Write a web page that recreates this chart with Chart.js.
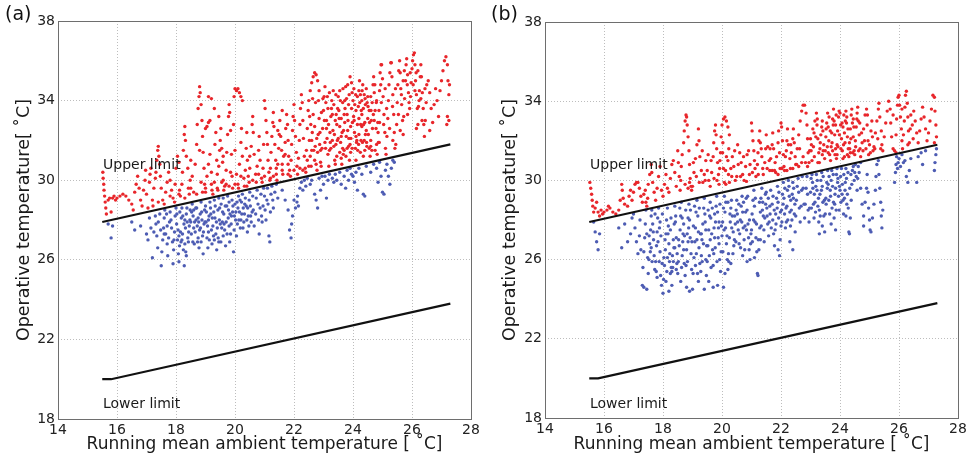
<!DOCTYPE html>
<html>
<head>
<meta charset="utf-8">
<script src="https://cdn.jsdelivr.net/npm/chart.js@4.4.1/dist/chart.umd.min.js"></script>
<style>
html,body{margin:0;padding:0;background:#fff;}
body{width:972px;height:457px;position:relative;overflow:hidden;font-family:"DejaVu Sans",sans-serif;}
.panel{position:absolute;top:0;width:486px;height:457px;}
.lab{position:absolute;top:2px;font-size:19px;color:#111;font-family:"DejaVu Sans",sans-serif;}
</style>
</head>
<body>
<div class="panel" style="left:0"><canvas id="ca" width="486" height="457"></canvas></div>
<div class="panel" style="left:486px"><canvas id="cb" width="486" height="457"></canvas></div>
<div class="lab" style="left:5px">(a)</div>
<div class="lab" style="left:491px">(b)</div>
<script>
// ---- data ----
const xTicks = [14,16,18,20,22,24,26,28];
const yTicks = [18,22,26,30,34,38];
const upperX = [15.5, 27.3];
const upperY = [27.9, 31.8];
const lowerX = [15.5, 15.8, 27.3];
const lowerY = [20.0, 20.0, 23.8];

// panel (a): above upper limit (red)
const redA = [
[15.52,30.4],[15.53,30.1],[15.55,29.8],[15.56,29.5],[15.58,29.2],[15.6,28.9],[15.62,28.6],[15.64,28.3],[15.7,29.0],[15.75,29.1],[15.8,28.4],[15.85,29.1],[15.9,29.2],[15.95,29.0],
[16.0,29.1],[16.1,29.2],[16.2,29.3],[16.3,29.2],[16.4,29.0],[16.5,28.8],[16.55,28.5],[16.6,29.4],[16.65,29.8],[16.7,30.2],[16.75,29.6],[16.8,29.0],[16.85,28.7],[16.9,29.5],[16.95,30.0],[16.97,30.5],
[17.0,29.3],[17.05,28.6],[17.1,29.9],[17.12,30.3],[17.15,30.6],[17.2,29.0],[17.22,28.7],[17.25,29.6],[17.3,30.1],[17.32,30.4],[17.35,31.0],[17.38,31.5],[17.4,31.7],[17.42,31.2],[17.45,30.8],[17.47,30.2],[17.5,29.6],
[17.55,29.0],[17.6,28.8],[17.65,29.4],[17.7,29.9],[17.75,30.4],[17.8,30.0],[17.85,29.5],[17.9,29.1],[17.95,28.9],[17.97,29.8],
[18.0,30.6],[18.05,31.2],[18.1,30.9],[18.12,29.5],[18.15,29.2],[18.2,29.8],[18.22,30.4],[18.25,31.5],[18.28,32.3],[18.3,32.7],[18.32,32.0],[18.35,31.2],[18.4,30.6],[18.42,29.6],[18.45,29.3],[18.48,30.0],
[18.5,31.0],[18.55,30.2],[18.6,29.4],[18.65,30.8],[18.7,31.8],[18.72,32.8],[18.75,33.6],[18.78,34.2],[18.8,34.7],[18.82,34.4],[18.85,33.8],[18.88,33.0],[18.9,32.2],[18.92,31.4],[18.95,30.6],[18.97,29.8],[18.8,31.5],[18.85,29.9],[18.9,29.4],
[19.0,32.6],[19.05,32.7],[19.1,32.9],[19.15,33.0],
[19.0,29.6],[19.05,30.2],[19.1,30.8],[19.15,31.3],[19.2,30.4],[19.22,29.5],[19.25,29.3],[19.3,29.9],[19.32,31.8],[19.35,32.4],[19.38,31.0],[19.4,30.3],[19.42,29.5],[19.45,30.7],[19.48,31.5],[19.1,34.2],[19.2,34.1],[19.3,33.6],[19.45,33.2],
[19.5,32.0],[19.52,32.6],[19.55,31.6],[19.58,30.9],[19.6,30.0],[19.62,29.5],[19.65,29.7],[19.7,30.5],[19.72,31.4],[19.75,32.3],[19.78,33.2],[19.8,33.8],[19.82,33.4],[19.85,32.5],[19.88,31.3],[19.9,30.2],[19.92,29.6],[19.95,32.8],[19.97,34.2],[19.7,29.8],[19.85,30.4],
[20.0,34.6],[20.05,34.5],[20.1,34.6],[20.15,34.4],[20.2,34.2],[20.25,34.0],[20.0,31.5],[20.05,30.3],[20.1,29.8],[20.12,29.6],[20.15,30.8],[20.2,31.9],[20.22,32.6],[20.25,31.2],[20.3,30.1],[20.32,29.7],[20.35,30.5],[20.38,31.6],[20.4,32.4],[20.42,31.0],[20.45,30.2],[20.48,29.9],
[20.5,30.6],[20.55,31.7],[20.58,32.8],[20.6,33.2],[20.62,32.4],[20.65,31.3],[20.7,30.3],[20.72,29.9],[20.75,30.7],[20.8,31.5],[20.82,32.2],[20.85,31.0],[20.9,30.1],[20.92,29.9],[20.95,30.6],[20.97,31.8],
[21.0,34.0],[21.02,33.6],[21.05,33.0],[21.08,32.4],[21.1,31.8],[21.12,31.0],[21.15,30.4],[21.18,30.0],[21.2,30.6],[21.22,31.4],[21.25,32.2],[21.28,32.9],[21.3,33.4],[21.32,32.7],[21.35,31.8],[21.38,31.0],[21.4,30.3],[21.42,30.0],[21.45,30.8],[21.48,31.6],[21.3,30.2],[21.45,32.5],
[21.5,32.3],[21.52,33.0],[21.55,32.2],[21.58,31.5],[21.6,30.8],[21.62,30.3],[21.65,31.2],[21.7,31.9],[21.72,32.6],[21.75,33.3],[21.78,32.8],[21.8,32.0],[21.82,31.2],[21.85,30.5],[21.88,30.2],[21.9,31.0],[21.92,31.8],[21.95,32.5],[21.97,33.2],[21.6,33.5],[21.8,30.3],
[22.0,33.8],[22.02,33.0],[22.05,32.2],[22.08,31.4],[22.1,30.7],[22.12,30.3],[22.15,31.1],[22.18,32.0],[22.2,32.8],[22.22,33.6],[22.25,34.3],[22.28,33.9],[22.3,33.0],[22.32,32.1],[22.35,31.2],[22.38,30.6],[22.4,30.4],[22.42,31.5],[22.45,32.6],[22.48,33.5],[22.3,30.5],[22.45,31.0],
[22.5,34.0],[22.55,34.5],[22.6,34.9],[22.65,35.2],[22.7,35.4],[22.75,35.3],[22.8,35.0],[22.85,34.5],[22.52,32.0],[22.55,31.2],[22.58,30.7],[22.6,31.5],[22.62,32.4],[22.65,33.3],[22.7,32.7],[22.72,31.7],[22.75,30.8],[22.78,30.5],[22.8,31.4],[22.82,32.3],[22.85,33.1],[22.88,32.4],[22.9,31.5],[22.92,30.7],[22.95,31.6],[22.97,32.6],
[23.0,33.5],[23.02,34.2],[23.05,34.7],[23.08,33.9],[23.1,33.0],[23.12,32.1],[23.15,31.3],[23.18,30.7],[23.2,31.5],[23.22,32.4],[23.25,33.2],[23.28,34.0],[23.3,33.3],[23.32,32.5],[23.35,31.7],[23.38,31.0],[23.4,30.8],[23.42,31.8],[23.45,32.8],[23.48,33.6],[23.3,32.0],[23.4,33.0],[23.2,34.4],[23.45,31.2],
[23.5,34.2],[23.52,33.5],[23.55,32.7],[23.58,31.9],[23.6,31.1],[23.62,30.8],[23.65,31.6],[23.68,32.5],[23.7,33.3],[23.72,34.0],[23.75,34.7],[23.78,34.1],[23.8,33.3],[23.82,32.5],[23.85,31.7],[23.88,31.0],[23.9,31.8],[23.92,32.7],[23.95,33.6],[23.97,34.4],[23.6,32.2],[23.7,31.5],[23.8,31.6],[23.85,33.8],[23.9,35.2],[23.95,34.9],[23.55,34.5],[23.65,33.9],
[24.0,34.0],[24.02,33.2],[24.05,32.4],[24.08,31.6],[24.1,31.0],[24.12,31.9],[24.15,32.8],[24.18,33.7],[24.2,34.5],[24.22,35.0],[24.25,34.3],[24.28,33.5],[24.3,32.7],[24.32,31.9],[24.35,31.2],[24.38,32.0],[24.4,32.9],[24.42,33.8],[24.45,34.6],[24.48,33.9],[24.1,33.5],[24.2,32.3],[24.3,34.0],[24.4,31.5],[24.45,32.5],[24.25,31.4],[24.15,34.2],[24.35,33.6],
[24.5,33.1],[24.52,32.3],[24.55,31.6],[24.58,31.2],[24.6,32.0],[24.62,33.0],[24.65,33.9],[24.68,34.8],[24.7,35.2],[24.72,34.4],[24.75,33.5],[24.78,32.6],[24.8,31.8],[24.82,31.3],[24.85,32.4],[24.88,33.5],[24.9,34.5],[24.92,35.4],[24.95,35.8],[24.97,35.8],[24.6,34.2],[24.75,31.5],
[25.0,35.1],[25.02,34.2],[25.05,33.3],[25.08,32.4],[25.1,31.6],[25.12,31.3],[25.15,32.2],[25.18,33.1],[25.2,34.0],[25.22,34.8],[25.25,35.4],[25.28,35.9],[25.3,35.9],[25.32,35.2],[25.35,34.3],[25.38,33.3],[25.4,32.4],[25.42,31.6],[25.45,31.8],[25.48,32.8],[25.35,32.0],
[25.5,33.9],[25.52,34.8],[25.55,35.5],[25.58,36.0],[25.6,35.4],[25.62,34.6],[25.65,33.8],[25.68,33.0],[25.7,32.3],[25.72,33.2],[25.75,34.1],[25.78,35.0],[25.8,35.8],[25.82,36.1],[25.85,35.3],[25.88,34.4],[25.9,33.9],[25.92,33.6],[25.95,34.2],[25.97,34.9],[25.7,35.0],[25.85,33.3],[25.6,32.5],
[26.0,35.6],[26.02,36.0],[26.05,36.3],[26.08,36.4],[26.1,35.8],[26.12,35.0],[26.15,34.3],[26.18,33.6],[26.2,32.8],[26.22,33.7],[26.25,34.5],[26.28,35.2],[26.3,35.8],[26.32,35.2],[26.35,34.4],[26.38,33.6],[26.4,32.8],[26.42,32.2],[26.45,33.0],[26.48,33.9],[26.1,34.5],[26.2,35.5],[26.3,34.1],[26.15,32.6],
[26.5,34.8],[26.55,35.0],[26.6,34.4],[26.65,33.6],[26.7,32.9],[26.75,33.8],[26.8,34.6],[26.85,34.0],[26.9,33.2],[26.95,34.5],[26.6,32.5],
[27.0,35.0],[27.05,35.5],[27.1,36.0],[27.15,36.2],[27.2,35.8],[27.22,35.0],[27.25,34.3],[27.25,33.0],[27.2,33.2],[27.18,32.8],[27.27,34.8],
[23.05,31.9],[23.1,32.6],[23.15,33.6],[23.25,31.6],[23.35,33.8],[23.42,34.3],[23.5,32.1],[23.55,31.4],[23.6,33.1],[23.66,34.6],[23.72,32.9],[23.76,31.2],[23.82,34.8],[23.86,32.1],[23.92,31.4],[23.98,32.9],[24.03,34.6],[24.06,33.8],[24.1,32.2],[24.16,31.5],[24.2,33.1],[24.26,32.8],[24.3,33.3],[24.33,34.8],[24.38,34.3],[24.42,32.3],[24.47,31.7],[24.5,34.2],[24.55,33.5],[24.6,31.7],[24.66,32.6],[24.72,33.0],[24.8,34.0],[24.86,31.9],[24.9,32.9],[24.96,33.9],
[18.1,29.3],[18.3,29.1],[18.5,29.6],[18.7,29.3],[19.0,29.4],[19.2,29.8],[19.4,29.6],[19.55,29.9],[19.8,29.7],[20.0,29.8],[20.2,30.2],[20.4,29.7],[20.6,30.0],[20.8,30.3],[21.0,30.2],[21.2,30.1],[21.4,30.6],[21.6,30.5],[21.8,30.8],[22.0,30.5],[22.2,30.6],[22.5,30.7],[22.7,31.0],[22.9,30.9],[17.8,29.2],[17.4,28.9],[19.6,31.2],[20.5,31.2],[21.7,31.3],[22.6,32.0],
[22.53,33.2],[22.57,32.8],[22.63,34.1],[22.67,31.5],[22.73,33.9],[22.77,32.1],[22.83,34.0],[22.87,31.8],[22.93,33.4],[22.98,34.1],[23.03,33.0],[23.07,31.6],[23.13,34.2],[23.17,32.8],[23.23,31.9],[23.27,33.6],[23.33,34.5],[23.37,32.3],[23.43,33.3],[23.47,32.0],[23.53,33.1],[23.57,34.0],[23.63,32.4],[23.67,31.3],[23.73,33.6],[23.77,32.2],[23.83,33.0],[23.87,34.3],[23.93,32.1],[23.97,31.6],[24.04,33.0],[24.09,34.3],[24.13,32.0],[24.19,31.8],[24.23,33.9],[24.27,32.0],[24.31,34.5],[24.36,32.8],[24.41,34.1],[24.46,31.9],[24.51,33.7],[24.56,32.9],[24.61,33.5],[24.64,31.5],[24.69,33.3],[24.74,34.8],[24.79,33.9],[24.84,32.9],[24.89,31.9],[24.94,34.8],[25.04,32.8],[25.09,34.6],[25.14,33.6],[25.24,32.6],[25.34,33.7],[25.44,34.6],[25.54,33.3],[25.64,34.3],[25.74,35.5],[25.84,34.8],[25.94,35.4],[26.04,34.8],[26.14,35.4],[26.24,34.0],[26.34,33.0],[26.44,34.6]
];
// panel (a): below upper limit (blue)
const blueA = [
[15.7,27.8],[15.8,27.1],[15.85,27.7],[16.5,27.9],[16.6,27.5],[16.8,27.7],
[17.0,27.3],[17.05,27.0],[17.1,28.1],[17.15,27.6],[17.2,26.1],[17.25,27.4],[17.3,28.2],[17.32,27.8],[17.35,27.2],[17.38,26.6],[17.4,27.9],[17.45,28.3],[17.48,27.5],
[17.5,25.7],[17.52,26.4],[17.55,27.0],[17.58,27.6],[17.6,28.1],[17.62,28.5],[17.65,27.3],[17.7,26.8],[17.72,26.2],[17.75,27.1],[17.78,27.9],[17.8,28.4],[17.85,27.6],[17.88,26.9],[17.9,25.8],[17.92,26.5],[17.95,27.4],[17.97,28.2],
[18.0,28.6],[18.02,27.8],[18.05,27.0],[18.08,26.3],[18.1,25.9],[18.12,26.7],[18.15,27.4],[18.18,28.1],[18.2,28.6],[18.22,27.3],[18.25,26.5],[18.28,25.7],[18.3,26.8],[18.32,27.6],[18.35,28.3],[18.38,27.9],[18.4,27.1],[18.42,26.9],[18.45,27.7],[18.48,28.5],[18.1,27.2],[18.2,27.0],[18.35,26.2],[18.3,28.0],
[18.5,27.9],[18.52,27.3],[18.55,28.8],[18.58,28.2],[18.6,27.6],[18.62,26.8],[18.65,27.4],[18.68,28.0],[18.7,28.6],[18.72,27.7],[18.75,27.1],[18.78,26.6],[18.8,27.5],[18.82,28.3],[18.85,28.9],[18.88,28.0],[18.9,27.2],[18.92,26.3],[18.95,27.8],[18.97,28.5],[18.6,28.5],[18.75,28.1],[18.85,26.9],
[19.0,28.7],[19.02,27.9],[19.05,27.1],[19.08,26.6],[19.1,27.4],[19.12,28.2],[19.15,28.9],[19.18,28.3],[19.2,27.5],[19.22,26.8],[19.25,27.7],[19.28,28.4],[19.3,29.0],[19.32,28.1],[19.35,27.3],[19.38,26.5],[19.4,27.6],[19.42,28.5],[19.45,29.1],[19.48,28.6],[19.1,28.0],[19.3,27.0],[19.45,26.9],
[19.5,27.8],[19.52,26.9],[19.55,27.6],[19.58,28.4],[19.6,29.1],[19.62,28.3],[19.65,27.5],[19.68,26.7],[19.7,27.9],[19.72,28.7],[19.75,29.2],[19.78,28.5],[19.8,27.7],[19.82,26.9],[19.85,27.3],[19.88,28.2],[19.9,29.0],[19.92,28.4],[19.95,26.4],[19.97,27.5],[19.8,28.9],[19.6,27.2],
[20.0,28.8],[20.02,28.0],[20.05,27.2],[20.08,27.8],[20.1,28.6],[20.12,29.2],[20.15,28.4],[20.18,27.6],[20.2,28.0],[20.22,28.9],[20.25,29.3],[20.28,28.6],[20.3,27.9],[20.32,28.3],[20.35,29.1],[20.38,28.7],[20.4,28.0],[20.42,27.4],[20.45,28.2],[20.48,29.0],
[20.5,29.4],[20.52,28.7],[20.55,27.9],[20.58,28.4],[20.6,29.2],[20.62,28.5],[20.65,27.7],[20.7,28.3],[20.72,29.1],[20.75,29.5],[20.78,28.8],[20.8,28.0],[20.82,27.3],[20.85,28.6],[20.88,29.3],[20.9,28.2],[20.92,27.9],[20.95,28.7],[20.97,29.6],
[21.0,29.2],[21.02,28.5],[21.05,28.0],[21.08,29.0],[21.1,29.6],[21.12,28.8],[21.15,27.2],[21.18,26.9],[21.2,28.4],[21.22,29.3],[21.25,29.7],[21.28,29.0],[21.3,28.6],[21.35,29.4],[21.4,29.8],[21.45,29.1],
[21.6,29.5],[21.7,29.0],[21.8,28.5],[21.85,27.5],[21.9,27.1],[21.92,27.8],[21.95,28.2],
[22.0,29.0],[22.05,28.6],[22.1,28.9],[22.12,29.2],[22.15,28.7],[22.2,29.6],[22.25,29.9],[22.3,29.5],[22.35,30.0],[22.4,29.7],[22.45,30.1],
[22.55,29.8],[22.6,30.0],[22.7,29.3],[22.75,29.0],[22.8,28.6],[22.85,30.1],[22.9,29.5],[22.95,30.2],
[23.0,29.8],[23.05,30.2],[23.1,29.1],[23.15,30.0],[23.2,30.3],[23.3,30.1],[23.35,29.9],[23.4,30.3],[23.45,30.0],
[23.55,30.4],[23.6,29.8],[23.7,30.2],[23.75,29.6],[23.8,30.5],[23.85,30.0],[23.9,30.6],[23.95,30.3],
[24.0,30.2],[24.05,29.9],[24.1,30.4],[24.15,29.5],[24.2,30.6],[24.3,30.3],[24.35,29.3],[24.4,29.2],[24.45,30.7],
[24.6,30.4],[24.7,30.8],[24.8,30.6],[24.85,29.9],[24.9,30.9],[24.95,30.2],
[25.0,29.4],[25.05,29.3],[25.1,30.5],[25.15,30.8],[25.2,30.2],[25.25,29.8],[25.3,30.6],[25.35,31.0],[25.4,30.9],
[18.03,28.3],[18.07,27.5],[18.13,28.4],[18.17,26.9],[18.23,28.2],[18.27,27.8],[18.33,26.4],[18.37,28.6],[18.43,27.4],[18.47,28.0],[18.53,28.4],[18.57,26.9],[18.63,27.9],[18.67,28.6],[18.73,26.9],[18.77,27.9],[18.83,27.6],[18.87,28.4],[18.93,27.4],[18.98,27.9],[19.03,28.4],[19.07,27.7],[19.13,27.0],[19.17,28.6],[19.23,28.1],[19.27,27.2],[19.33,28.7],[19.37,27.9],[19.43,27.1],[19.47,28.0],[19.53,28.8],[19.57,27.9],[19.63,27.8],[19.67,28.7],[19.73,27.3],[19.77,28.1],[19.83,28.3],[19.87,27.8],[19.93,28.7],[19.98,28.2],[20.03,28.4],[20.07,28.9],[20.13,28.0],[20.17,29.0],[20.23,28.3],[20.27,27.6],[20.33,28.8],[20.43,28.6],[20.47,27.7],[20.53,28.2],[17.6,27.3],[17.7,27.7],[17.83,28.0],[17.93,27.0],[17.68,28.3]
];
// panel (b): above upper limit (red)
const redB = [
[15.52,29.9],[15.55,29.6],[15.58,29.3],[15.6,29.0],[15.62,28.7],[15.65,28.4],[15.7,28.6],[15.75,28.9],[15.8,28.4],[15.85,28.2],[15.9,28.5],[15.95,28.3],
[16.0,28.4],[16.1,28.5],[16.15,28.7],[16.2,28.6],[16.3,28.4],[16.4,28.3],[16.5,28.5],[16.55,29.0],[16.6,29.8],[16.62,29.5],[16.65,29.1],[16.7,28.8],[16.8,28.7],[16.85,29.2],[16.9,29.5],[16.95,29.0],
[17.0,29.4],[17.05,29.8],[17.1,29.9],[17.15,29.9],[17.2,29.6],[17.25,29.2],[17.3,28.9],[17.35,29.3],[17.4,29.5],[17.42,28.9],[17.45,28.7],[17.48,29.1],
[17.5,29.8],[17.55,30.3],[17.6,30.8],[17.62,30.4],[17.65,29.9],[17.7,29.4],[17.75,29.0],[17.8,29.6],[17.85,30.2],[17.9,30.7],[17.95,29.5],
[18.0,29.2],[18.05,29.8],[18.1,30.3],[18.15,29.6],[18.2,29.4],[18.25,30.1],[18.3,30.8],[18.35,31.0],[18.4,30.4],[18.45,29.7],
[18.5,31.5],[18.52,30.9],[18.55,30.2],[18.58,29.5],[18.6,30.0],[18.62,30.7],[18.65,31.3],[18.7,31.9],[18.72,32.5],[18.75,33.0],[18.78,33.3],[18.8,33.2],[18.82,32.8],[18.85,32.2],[18.88,31.5],[18.9,30.8],[18.92,30.1],[18.95,29.7],[18.97,29.5],[18.85,29.6],[18.9,29.9],[18.75,29.8],
[19.0,29.7],[19.05,30.4],[19.1,31.1],[19.15,31.8],[19.2,32.6],[19.22,32.0],[19.25,31.2],[19.3,30.5],[19.35,29.9],[19.4,30.3],[19.45,31.0],
[19.5,30.5],[19.55,30.0],[19.6,29.7],[19.65,30.4],[19.7,31.2],[19.72,31.9],[19.75,32.5],[19.78,32.8],[19.8,32.3],[19.82,31.6],[19.85,30.9],[19.88,30.3],[19.9,29.8],[19.92,30.6],[19.95,31.4],[19.97,32.2],
[20.0,32.8],[20.05,33.1],[20.1,33.2],[20.15,33.0],[20.2,32.7],[20.25,32.3],[20.02,31.4],[20.05,30.6],[20.08,29.9],[20.12,30.5],[20.15,31.2],[20.2,31.0],[20.22,30.3],[20.25,29.9],[20.3,30.6],[20.35,31.2],[20.4,30.7],[20.45,30.0],
[20.5,30.2],[20.55,30.8],[20.6,31.4],[20.65,30.9],[20.7,30.3],[20.75,30.0],[20.8,30.7],[20.85,31.3],[20.9,31.5],[20.95,30.8],
[21.0,32.9],[21.02,32.5],[21.05,32.0],[21.08,31.5],[21.1,31.0],[21.12,30.6],[21.15,30.2],[21.2,30.8],[21.22,31.4],[21.25,32.0],[21.28,32.5],[21.3,31.9],[21.35,31.2],[21.38,30.6],[21.4,30.3],[21.45,30.9],[21.48,31.6],
[21.5,32.3],[21.55,31.7],[21.6,31.0],[21.62,30.5],[21.65,31.1],[21.7,31.8],[21.72,32.4],[21.75,31.6],[21.8,30.9],[21.82,30.4],[21.85,31.2],[21.9,31.9],[21.92,32.5],[21.95,31.4],[21.97,30.6],[21.7,30.5],
[22.0,32.9],[22.02,32.7],[22.05,32.0],[22.08,31.3],[22.1,30.7],[22.12,30.5],[22.15,31.2],[22.2,32.0],[22.22,32.6],[22.25,31.8],[22.3,31.1],[22.32,30.6],[22.35,31.4],[22.4,32.1],[22.42,32.6],[22.45,31.9],[22.48,31.2],
[22.5,30.8],[22.55,31.6],[22.6,32.3],[22.65,33.0],[22.7,33.5],[22.75,33.8],[22.8,33.8],[22.85,33.4],[22.88,32.8],[22.9,32.1],[22.92,31.4],[22.95,30.9],[22.97,31.5],[22.6,30.7],[22.75,31.2],
[23.0,32.1],[23.02,31.5],[23.05,31.0],[23.1,31.7],[23.12,32.4],[23.15,33.0],[23.2,33.4],[23.22,32.8],[23.25,32.1],[23.28,31.4],[23.3,30.9],[23.32,31.6],[23.35,32.3],[23.4,33.0],[23.42,32.5],[23.45,31.8],[23.48,31.1],[23.25,30.9],[23.4,31.3],
[23.5,31.5],[23.52,32.2],[23.55,32.9],[23.58,33.4],[23.6,32.7],[23.62,32.0],[23.65,31.3],[23.68,31.0],[23.7,31.7],[23.72,32.4],[23.75,33.1],[23.78,33.6],[23.8,33.0],[23.82,32.3],[23.85,31.6],[23.88,31.1],[23.9,31.8],[23.92,32.5],[23.95,33.2],[23.97,33.5],[23.6,31.4],[23.75,31.5],[23.9,31.3],[23.85,32.8],
[24.0,33.4],[24.02,32.8],[24.05,32.1],[24.08,31.5],[24.1,31.1],[24.12,31.8],[24.15,32.4],[24.18,33.0],[24.2,33.5],[24.22,32.9],[24.25,32.2],[24.28,31.6],[24.3,31.2],[24.32,31.9],[24.35,32.6],[24.38,33.3],[24.4,33.6],[24.42,32.9],[24.45,32.2],[24.48,31.5],[24.1,32.7],[24.25,31.3],[24.35,31.4],[24.45,33.1],[24.15,31.2],
[24.5,31.3],[24.52,32.0],[24.55,32.7],[24.58,33.4],[24.6,33.7],[24.62,33.0],[24.65,32.3],[24.68,31.6],[24.7,31.2],[24.75,31.9],[24.8,32.6],[24.85,33.3],[24.9,33.6],[24.92,32.8],[24.95,32.0],[24.97,31.3],
[25.0,31.8],[25.05,32.5],[25.1,32.2],[25.12,31.5],[25.15,31.7],[25.2,32.4],[25.25,33.0],[25.3,33.6],[25.32,33.9],[25.35,33.2],[25.4,32.5],[25.42,31.8],[25.45,31.5],
[25.5,32.2],[25.55,32.9],[25.6,33.5],[25.65,34.0],[25.7,33.6],[25.72,32.9],[25.75,32.2],[25.8,31.6],[25.85,31.5],[25.9,32.3],[25.92,33.1],[25.95,33.8],[25.97,34.2],[25.8,33.3],[25.9,31.4],
[26.0,34.3],[26.02,33.8],[26.05,33.2],[26.08,32.6],[26.1,32.0],[26.12,31.6],[26.15,32.3],[26.18,33.0],[26.2,33.7],[26.22,34.3],[26.25,34.5],[26.28,33.9],[26.3,33.2],[26.32,32.5],[26.35,31.9],[26.38,32.6],[26.4,33.3],[26.45,32.8],[26.48,32.1],[26.1,33.6],[26.3,31.8],
[26.5,33.5],[26.55,33.0],[26.6,32.4],[26.65,31.9],[26.7,32.5],[26.75,33.1],[26.8,33.7],[26.85,33.2],[26.9,32.6],[26.95,32.0],
[27.0,32.4],[27.05,33.0],[27.1,33.6],[27.15,34.3],[27.2,34.2],[27.22,33.5],[27.25,32.8],[27.27,32.2],[27.2,31.9],
[23.03,31.8],[23.08,32.6],[23.13,31.2],[23.18,32.2],[23.23,33.1],[23.33,31.9],[23.38,32.7],[23.43,31.5],[23.53,32.6],[23.57,31.7],[23.63,33.2],[23.67,32.5],[23.73,31.9],[23.77,32.8],[23.83,31.3],[23.87,33.3],[23.93,31.7],[23.98,32.3],[24.03,31.6],[24.07,32.9],[24.13,33.3],[24.17,31.9],[24.23,33.2],[24.27,32.6],[24.33,31.6],[24.37,32.1],[24.43,31.4],[24.47,32.7],[24.53,31.7],[24.57,33.1],[24.63,31.5],[24.67,32.9],[24.73,32.4],[24.78,31.5],[24.83,32.0],[24.88,31.6],[24.93,33.3],[25.03,31.4],[25.08,33.0],[25.18,31.6],[25.28,32.1],[25.38,31.6],[22.9,30.7],[22.7,30.9],[22.4,30.6],[22.2,30.5],[21.9,30.3],
[19.03,30.9],[19.13,30.2],[19.23,29.9],[19.33,31.5],[19.43,30.0],[19.53,31.3],[19.63,31.0],[19.73,30.1],[19.83,30.0],[19.93,31.0],[20.03,31.9],[20.13,29.8],[20.23,31.6],[20.33,30.2],[20.43,31.5],[20.53,31.8],[20.63,30.2],[20.73,31.2],[20.83,29.95],[20.93,30.3],[21.03,30.4],[21.23,30.3],[21.33,31.6],[21.53,30.6],[21.63,31.6],[21.78,30.5],[22.03,30.6],[22.18,31.5],[22.33,31.8],[22.53,30.8],[22.63,31.6],[22.83,30.9]
];
// panel (b): below upper limit (blue)
const blueB = [
[15.65,27.9],[15.7,27.4],[15.75,26.9],[15.8,26.5],[15.85,27.3],[16.5,27.6],[16.6,26.6],[16.7,27.8],[16.8,26.9],[16.9,27.3],[16.95,28.1],
[17.0,28.3],[17.05,27.6],[17.1,26.9],[17.15,26.3],[17.2,27.2],[17.22,28.0],[17.25,26.5],[17.3,24.7],[17.32,25.6],[17.35,26.4],[17.38,27.1],[17.4,27.8],[17.42,28.5],[17.45,27.3],[17.48,26.1],[17.35,24.6],[17.45,24.5],
[17.5,25.3],[17.52,26.0],[17.55,26.8],[17.58,27.5],[17.6,28.2],[17.62,28.5],[17.65,27.8],[17.68,27.0],[17.7,26.2],[17.72,25.5],[17.75,25.9],[17.78,26.7],[17.8,27.4],[17.82,28.1],[17.85,28.6],[17.88,27.6],[17.9,26.4],[17.92,25.2],[17.95,24.7],[17.97,25.8],[17.6,26.6],[17.8,25.1],[17.9,27.9],
[18.0,24.3],[18.02,25.0],[18.05,25.7],[18.08,26.5],[18.1,27.3],[18.12,28.0],[18.15,28.6],[18.18,27.7],[18.2,26.8],[18.22,25.9],[18.25,25.3],[18.28,25.6],[18.3,25.4],[18.32,26.2],[18.35,27.0],[18.38,27.8],[18.4,28.7],[18.42,27.9],[18.45,27.1],[18.48,26.3],[18.1,24.9],[18.2,24.4],[18.3,24.7],[18.35,25.9],[18.45,25.5],[18.15,26.1],[18.25,27.5],[18.4,26.6],
[18.5,25.3],[18.52,25.9],[18.55,26.7],[18.58,27.5],[18.6,28.2],[18.62,28.9],[18.65,28.1],[18.68,27.3],[18.7,26.5],[18.72,25.8],[18.75,25.2],[18.78,25.7],[18.8,26.5],[18.82,27.3],[18.85,28.1],[18.88,28.8],[18.9,28.0],[18.92,27.1],[18.95,26.3],[18.97,25.5],[18.6,24.9],[18.7,27.8],[18.8,24.6],[18.9,24.4],[18.65,26.2],[18.85,26.9],
[19.0,24.5],[19.02,25.3],[19.05,26.1],[19.08,26.9],[19.1,27.6],[19.12,28.4],[19.15,29.0],[19.18,28.2],[19.2,27.4],[19.22,26.6],[19.25,25.8],[19.28,25.4],[19.3,26.2],[19.32,27.0],[19.35,27.8],[19.38,28.6],[19.4,29.1],[19.42,28.3],[19.45,27.5],[19.48,26.7],[19.1,25.7],[19.2,24.9],[19.3,27.3],[19.4,24.5],[19.45,26.0],[19.15,27.0],
[19.5,25.9],[19.52,26.7],[19.55,27.5],[19.58,28.2],[19.6,28.9],[19.62,28.1],[19.65,27.3],[19.68,26.5],[19.7,25.7],[19.72,26.3],[19.75,27.1],[19.78,27.9],[19.8,28.7],[19.82,29.2],[19.85,28.4],[19.88,27.6],[19.9,26.8],[19.92,26.0],[19.95,25.4],[19.97,26.4],[19.55,24.9],[19.7,24.6],[19.85,24.7],[19.6,27.0],[19.75,28.3],[19.9,27.9],
[20.0,27.2],[20.02,27.9],[20.05,28.6],[20.08,29.2],[20.1,28.4],[20.12,27.6],[20.15,26.8],[20.18,26.0],[20.2,25.5],[20.22,26.3],[20.25,27.1],[20.28,27.9],[20.3,28.6],[20.32,29.0],[20.35,28.2],[20.38,27.4],[20.4,26.7],[20.42,27.0],[20.45,27.8],[20.48,28.5],[20.05,24.6],[20.1,25.3],[20.3,25.8],[20.2,28.9],
[20.5,29.0],[20.52,28.3],[20.55,27.5],[20.58,26.8],[20.6,27.3],[20.62,28.0],[20.65,28.7],[20.68,29.2],[20.7,28.4],[20.72,27.6],[20.75,27.0],[20.78,27.7],[20.8,28.4],[20.82,29.1],[20.85,28.5],[20.88,27.8],[20.9,27.1],[20.92,26.5],[20.95,26.0],[20.97,26.8],[20.7,26.2],[20.85,25.9],
[21.0,27.5],[21.02,28.3],[21.05,29.0],[21.08,29.5],[21.1,28.7],[21.12,27.9],[21.15,27.1],[21.18,26.4],[21.2,25.3],[21.22,25.2],[21.25,26.5],[21.28,27.6],[21.3,28.4],[21.32,29.1],[21.35,29.6],[21.38,28.9],[21.4,28.2],[21.42,27.5],[21.45,28.1],[21.48,28.8],[21.1,26.1],[21.3,27.0],
[21.5,29.4],[21.52,28.6],[21.55,27.8],[21.58,27.2],[21.6,27.9],[21.62,28.7],[21.65,29.5],[21.7,28.8],[21.72,28.0],[21.75,27.3],[21.78,26.7],[21.8,27.5],[21.82,28.3],[21.85,29.1],[21.88,29.7],[21.9,28.9],[21.92,28.1],[21.95,26.2],[21.97,27.0],[21.9,26.5],
[22.0,27.7],[22.02,28.5],[22.05,29.3],[22.08,29.9],[22.1,29.1],[22.12,28.3],[22.15,27.6],[22.18,27.9],[22.2,28.7],[22.22,29.5],[22.25,30.0],[22.28,29.2],[22.3,28.4],[22.32,27.7],[22.35,28.5],[22.38,29.3],[22.4,29.9],[22.42,29.1],[22.45,28.3],[22.48,27.4],[22.3,26.9],[22.4,26.5],
[22.5,28.2],[22.52,29.0],[22.55,29.7],[22.58,30.1],[22.6,29.4],[22.62,28.6],[22.65,27.9],[22.68,28.7],[22.7,29.5],[22.72,30.2],[22.75,29.6],[22.78,28.8],[22.8,28.1],[22.82,28.8],[22.85,29.6],[22.88,30.2],[22.9,29.3],[22.92,28.5],[22.95,27.9],[22.97,28.6],
[23.0,29.4],[23.02,30.1],[23.05,30.3],[23.08,29.6],[23.1,28.8],[23.12,28.1],[23.15,28.9],[23.18,29.7],[23.2,30.3],[23.22,29.5],[23.25,28.7],[23.28,27.9],[23.3,28.5],[23.32,29.3],[23.35,30.0],[23.38,30.4],[23.4,29.7],[23.42,28.9],[23.45,28.2],[23.48,27.4],[23.3,27.3],[23.4,27.7],
[23.5,28.3],[23.52,29.1],[23.55,29.9],[23.58,30.5],[23.6,29.8],[23.62,29.0],[23.65,28.3],[23.68,29.2],[23.7,30.0],[23.72,30.5],[23.75,29.7],[23.78,28.9],[23.8,28.1],[23.82,28.8],[23.85,29.6],[23.88,30.3],[23.9,30.6],[23.92,29.9],[23.95,29.2],[23.97,28.5],[23.7,27.8],[23.85,27.5],
[24.0,29.5],[24.02,30.2],[24.05,30.6],[24.08,29.8],[24.1,29.0],[24.12,28.3],[24.15,29.1],[24.18,29.9],[24.2,30.6],[24.22,30.1],[24.25,29.3],[24.28,28.6],[24.3,27.4],[24.32,27.3],[24.35,28.1],[24.38,29.0],[24.4,29.8],[24.42,30.5],[24.45,30.7],[24.48,30.0],[24.2,28.2],
[24.5,30.4],[24.52,30.8],[24.55,30.2],[24.58,29.5],[24.6,30.1],[24.62,30.7],[24.65,30.4],[24.7,29.6],[24.75,28.8],[24.8,28.2],[24.85,28.9],[24.9,29.6],[24.92,30.3],[24.95,29.4],[24.97,28.6],[24.7,30.9],[24.8,27.7],
[25.0,28.0],[25.02,27.5],[25.05,27.4],[25.1,28.1],[25.15,28.8],[25.2,29.5],[25.22,30.2],[25.25,30.8],[25.3,31.0],[25.32,30.3],[25.35,29.6],[25.38,28.9],[25.4,28.2],[25.42,27.6],[25.45,28.5],
[25.85,29.9],[25.88,30.4],[25.9,30.8],[25.92,31.2],[25.95,30.6],[25.97,30.9],
[26.0,31.1],[26.05,30.7],[26.1,31.3],[26.15,30.9],[26.2,31.0],[26.25,30.2],[26.3,29.9],[26.35,30.5],[26.4,31.1],
[26.6,29.9],[26.65,31.2],[26.75,31.4],[26.8,30.8],[26.9,31.5],
[27.2,30.5],[27.22,30.9],[27.25,31.3],[27.27,31.6],
[18.03,26.1],[18.07,27.0],[18.13,25.4],[18.17,27.3],[18.23,26.3],[18.27,28.1],[18.33,25.6],[18.37,26.6],[18.43,28.2],[18.47,25.8],[18.53,27.0],[18.57,28.6],[18.63,25.6],[18.67,26.9],[18.73,27.2],[18.77,28.5],[18.83,25.9],[18.87,27.6],[18.93,28.5],[18.98,26.9],[19.03,27.7],[19.07,28.7],[19.13,26.3],[19.17,25.3],[19.23,28.6],[19.27,27.3],[19.33,25.9],[19.37,26.8],[19.43,27.9],[19.47,25.2],[19.53,28.5],[19.57,26.2],[19.63,25.6],[19.67,28.6],[19.73,27.6],[19.77,26.6],[19.83,25.9],[19.87,27.1],[19.93,28.8],[19.98,27.7],[20.03,26.4],[20.07,27.5],[20.13,28.9],[20.17,27.2],[20.23,25.9],[20.27,28.3],[20.33,27.6],[20.37,26.3],[20.43,28.2],[20.47,26.9],[20.53,27.9],[20.57,28.8],[20.63,26.6],[20.67,27.9],[20.73,28.9],[20.77,26.5],[20.83,27.5],[20.87,29.2],[20.93,28.0],[20.98,27.3],[21.03,26.9],[21.07,28.0],[21.13,29.1],[21.17,27.8],[21.23,27.0],[21.27,28.9],[21.33,27.7],[21.37,28.5],[21.43,26.9],[21.47,29.3],[17.53,27.2],[17.57,26.4],[17.63,25.9],[17.67,27.4],[17.73,28.3],[17.77,25.4],[17.83,26.9],[17.87,25.9],[17.93,27.2],[17.98,28.3],
[21.53,28.2],[21.57,29.1],[21.63,28.3],[21.67,27.6],[21.73,29.2],[21.77,28.5],[21.83,27.8],[21.87,28.6],[21.93,29.4],[21.98,28.4],[22.03,27.9],[22.07,28.8],[22.13,29.6],[22.17,28.6],[22.23,28.0],[22.27,29.7],[22.33,29.0],[22.37,28.0],[22.43,29.6],[22.47,28.8],[23.03,28.6],[23.07,29.9],[23.13,29.3],[23.17,28.4],[23.23,30.0],[23.27,29.1],[23.33,28.2],[23.37,29.5],[23.43,30.2],[23.47,29.0],[23.53,28.8],[23.57,29.6],[23.63,30.2],[23.67,29.5],[23.73,28.6],[23.77,30.3],[23.83,29.3],[23.87,28.5],[23.93,30.1],[23.98,29.7],[24.03,28.9],[24.07,29.3],[24.13,30.3],[24.17,29.5],[24.23,28.8],[24.27,30.4],[24.33,29.6],[24.37,30.3]
];

const RED = '#e8262b';
const BLUE = '#4d5cb3';
const FONT = '"DejaVu Sans", sans-serif';

function pts(arr){ return arr.map(p => ({x:p[0], y:p[1]})); }
function line(xs, ys){ return xs.map((x,i) => ({x:x, y:ys[i]})); }

const framePlugin = {
  id:'frame',
  afterDraw(chart, args, opts){
    const {ctx, chartArea:a} = chart;
    ctx.save();
    ctx.strokeStyle = '#6e6e6e';
    ctx.lineWidth = 1;
    ctx.strokeRect(Math.round(a.left)+0.5, Math.round(a.top)+0.5, Math.round(a.right-a.left), Math.round(a.bottom-a.top));
    ctx.fillStyle = '#1a1a1a';
    ctx.font = '14px ' + FONT;
    ctx.textBaseline = 'middle';
    ctx.textAlign = 'left';
    ctx.fillText('Upper limit', a.left + opts.dx, opts.upY);
    ctx.fillText('Lower limit', a.left + opts.dx, opts.loY);
    ctx.restore();
  }
};

function makeChart(id, red, blue, padTop, padRight, yW, xH){
  return new Chart(document.getElementById(id), {
    type:'scatter',
    data:{ datasets:[
      {type:'line', data:line(upperX, upperY), borderColor:'#111', borderWidth:2.2, pointRadius:0, fill:false, order:0},
      {type:'line', data:line(lowerX, lowerY), borderColor:'#111', borderWidth:2.2, pointRadius:0, fill:false, order:0},
      {data:pts(red), backgroundColor:RED, borderWidth:0, pointRadius:1.7, order:1},
      {data:pts(blue), backgroundColor:BLUE, borderWidth:0, pointRadius:1.7, order:1}
    ]},
    options:{
      responsive:false, animation:false, devicePixelRatio:1,
      layout:{padding:{top:padTop, right:padRight, left:0, bottom:0}},
      plugins:{legend:{display:false}, tooltip:{enabled:false},
        frame:{dx:45, upY:165, loY:404}},
      scales:{
        x:{type:'linear', min:14, max:28,
          afterBuildTicks(s){ s.ticks = xTicks.map(v => ({value:v})); },
          afterFit(s){ s.height = xH; },
          grid:{color:'#bdbdbd', drawTicks:false, lineWidth:1},
          border:{display:false, dash:[1,2]},
          ticks:{color:'#222', font:{family:FONT, size:14}, padding:3, maxRotation:0},
          title:{display:true, text:'Running mean ambient temperature [ ˚C]', color:'#1a1a1a', font:{family:FONT, size:17}, padding:{top:0,bottom:2}}
        },
        y:{type:'linear', min:18, max:38,
          afterBuildTicks(s){ s.ticks = yTicks.map(v => ({value:v})); },
          afterFit(s){ s.width = yW; },
          grid:{color:'#bdbdbd', drawTicks:false, lineWidth:1},
          border:{display:false, dash:[1,2]},
          ticks:{color:'#222', font:{family:FONT, size:14}, padding:3},
          title:{display:true, text:'Operative temperature[ ˚C]', color:'#1a1a1a', font:{family:FONT, size:17.5}, padding:{top:14,bottom:0}}
        }
      }
    },
    plugins:[framePlugin]
  });
}

makeChart('ca', redA, blueA, 21, 15, 58, 38);
makeChart('cb', redB, blueB, 22, 14, 59, 39);
</script>
</body>
</html>
